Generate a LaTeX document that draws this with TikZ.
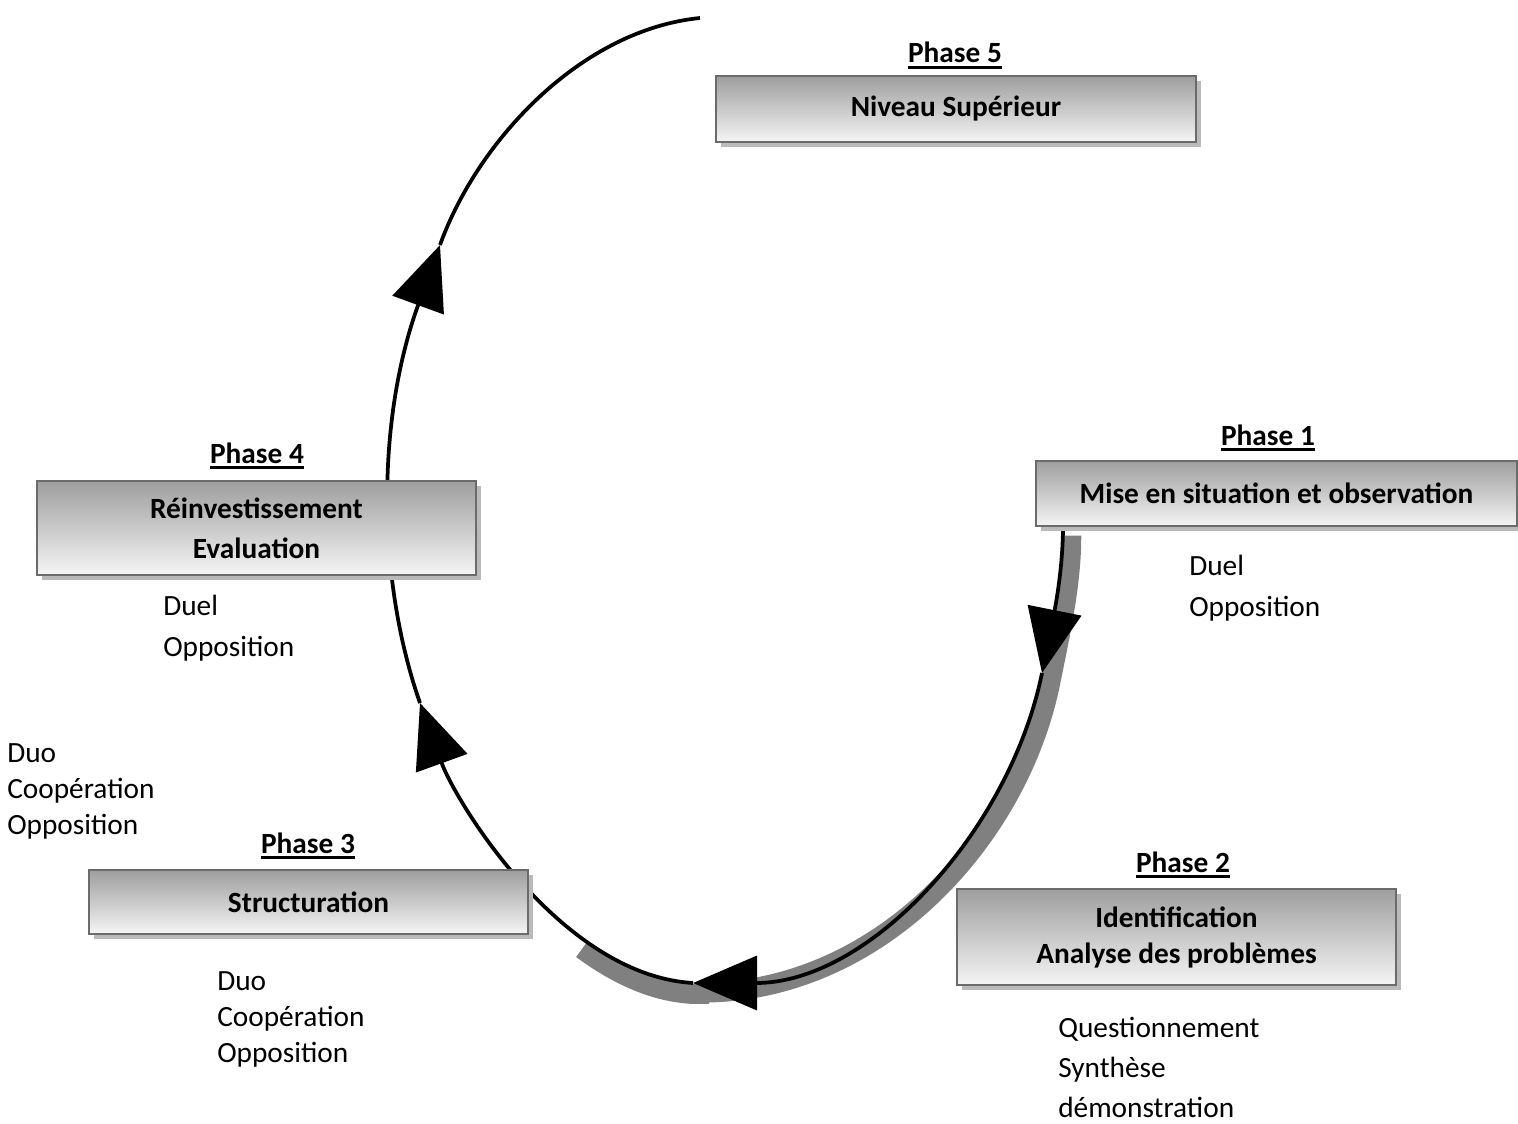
\documentclass[tikz,border=0pt]{standalone}
\usepackage{fontspec}
\setmainfont{Carlito}
\usetikzlibrary{arrows.meta,shadows,backgrounds}
\newcommand{\phul}[1]{\setbox0\hbox{#1}\rlap{\rule[-4.4pt]{\wd0}{1.9pt}}\box0}
\begin{document}
\begin{tikzpicture}[x={(0.75pt,0)}, y={(0,-0.75pt)},
  box/.style={draw=black!58, line width=1.5pt, top color=black!38, bottom color=black!4,
    general shadow={fill=black!27, shadow xshift=3.6pt, shadow yshift=-3.6pt},
    inner sep=0pt, align=center, font=\fontsize{22}{30}\selectfont\bfseries},
  phlabel/.style={anchor=base, inner sep=0pt, font=\fontsize{22}{30}\selectfont\bfseries},
  item/.style={anchor=base west, inner sep=0pt, font=\fontsize{22}{30}\selectfont},
  flow/.style={line width=2.8pt, draw=black},
  tip/.style={-{Triangle[length=48pt,width=40.5pt]}},
  shade/.style={line width=15pt, draw=black!50}
]
\useasboundingbox (0,0) rectangle (1518,1124);

% boxes
\node[box, minimum width=360pt, minimum height=49.5pt] (p5) at (956,109) {Niveau Supérieur};
\node[box, minimum width=360.75pt, minimum height=48.75pt] (p1) at (1276.5,493.5) {Mise en situation et observation};
\node[box, minimum width=329.25pt, minimum height=70.5pt] (p4) at (256.5,528) {Réinvestissement\\Evaluation};
\node[box, minimum width=329.25pt, minimum height=48pt] (p3) at (308.5,902) {Structuration};
\node[box, minimum width=329.25pt, minimum height=72pt, font=\fontsize{22}{27}\selectfont\bfseries] (p2) at (1176.5,937) {Identification\\Analyse des problèmes};

% phase labels
\node[phlabel] (l5) at (955,63) {\phul{Phase 5}};
\node[phlabel] (l1) at (1268,445) {\phul{Phase 1}};
\node[phlabel] (l4) at (257,463) {\phul{Phase 4}};
\node[phlabel] (l3) at (308,853) {\phul{Phase 3}};
\node[phlabel] (l2) at (1183,872) {\phul{Phase 2}};

% item lists
\node[item] (a1) at (1189,575) {Duel};
\node[item] (a2) at (1189,616) {Opposition};
\node[item] (b1) at (163,615) {Duel};
\node[item] (b2) at (163,656) {Opposition};
\node[item] (c1) at (7,762) {Duo};
\node[item] (c2) at (7,798) {Coopération};
\node[item] (c3) at (7,834) {Opposition};
\node[item] (d1) at (217,990) {Duo};
\node[item] (d2) at (217,1026) {Coopération};
\node[item] (d3) at (217,1062) {Opposition};
\node[item] (e1) at (1058,1037) {Questionnement};
\node[item] (e2) at (1058,1077) {Synthèse};
\node[item] (e3) at (1058,1117) {démonstration};

% cycle coordinates
\coordinate (s1) at (1063,526);
\coordinate (t1) at (1042,673);
\coordinate (t2) at (693,983);
\coordinate (t3) at (420,703);
\coordinate (t4) at (440,245);
\coordinate (e5) at (700,18);
\coordinate (sh) at (582,938);

\begin{pgfonlayer}{background}
\draw[shade, transform canvas={xshift=6.2pt, yshift=-7.2pt}]
  (s1) .. controls (1063,575) and (1052,623) .. (t1)
       .. controls (1010,830) and (870,983) .. (t2);
\draw[shade, transform canvas={yshift=-8.2pt}]
  ([xshift=12pt]t2) -- (t2) .. controls (653,981) and (616,963) .. (sh);
\draw[flow,tip] (s1) .. controls (1063,575) and (1052,623) .. (t1);
\draw[flow,tip] (t1) .. controls (1010,830) and (870,983) .. (t2);
\draw[flow,tip] (t2) .. controls (560,975) and (455,800) .. (t3);
\draw[flow,tip] (t3) .. controls (376,577) and (377,418) .. (t4);
\draw[flow] (t4) .. controls (477,142) and (580,30) .. (e5);
\end{pgfonlayer}
\end{tikzpicture}
\end{document}
